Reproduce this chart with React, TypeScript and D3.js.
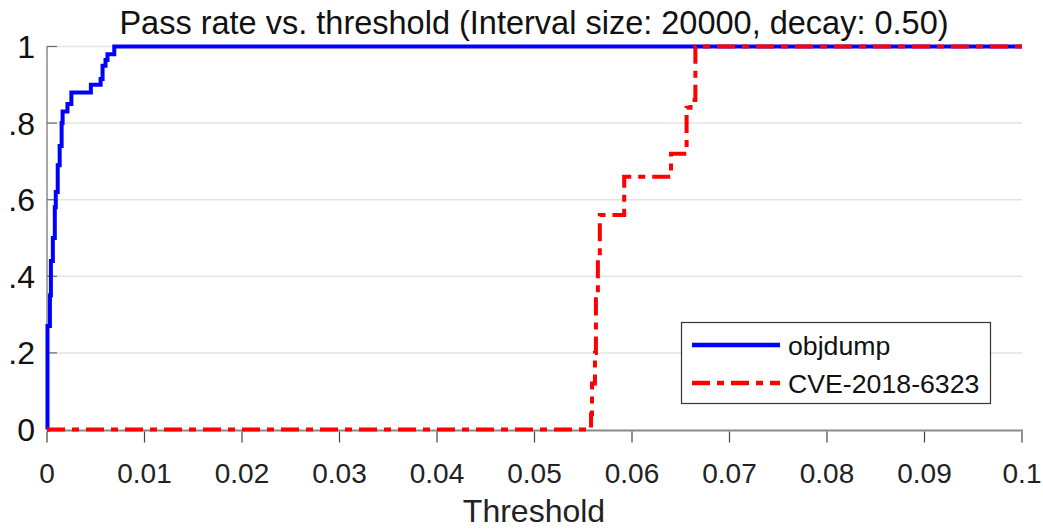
import React, { useEffect, useRef } from "react";
import * as d3 from "d3";

// Pass-rate curves (threshold, pass rate), drawn as step functions
const objdumpThreshold = [0, 0.00005, 0.0003, 0.0004, 0.0006, 0.0008, 0.0009, 0.0011, 0.0013, 0.0015, 0.0016, 0.0021, 0.0025, 0.0045, 0.0055, 0.0057, 0.006, 0.0062, 0.0069, 0.1];
const objdumpRate = [0, 0.27, 0.35, 0.44, 0.5, 0.58, 0.62, 0.69, 0.74, 0.8, 0.83, 0.85, 0.88, 0.9, 0.915, 0.95, 0.965, 0.98, 1.0, 1.0];

const cveThreshold = [0, 0.0558, 0.0559, 0.0562, 0.0563, 0.0565, 0.0567, 0.0592, 0.064, 0.0656, 0.066, 0.0665, 0.1];
const cveRate = [0, 0.04, 0.12, 0.2, 0.34, 0.45, 0.56, 0.66, 0.72, 0.84, 0.86, 1.0, 1.0];

const xTicks = [0, 0.01, 0.02, 0.03, 0.04, 0.05, 0.06, 0.07, 0.08, 0.09, 0.1];
const xTickLabels = ["0", "0.01", "0.02", "0.03", "0.04", "0.05", "0.06", "0.07", "0.08", "0.09", "0.1"];
const yTicks = [0, 0.2, 0.4, 0.6, 0.8, 1];
const yTickLabels = ["0", ".2", ".4", ".6", ".8", "1"];

const seriesNames = ["objdump", "CVE-2018-6323"];

const W = 1043;
const H = 529;
const FONT = "'Liberation Sans', Arial, Helvetica, sans-serif";
const DASH = "18,7,7,7";

export default function App() {
  const ref = useRef<SVGSVGElement>(null);

  useEffect(() => {
    const svg = d3.select(ref.current);
    svg.selectAll("*").remove();

    const left = 47, right = 1022, top = 46.5, bottom = 429.5;
    const x = d3.scaleLinear().domain([0, 0.1]).range([left, right]);
    const y = d3.scaleLinear().domain([0, 1]).range([bottom, top]);

    // horizontal grid
    svg.append("g")
      .selectAll("line")
      .data(yTicks.filter((v) => v > 0))
      .join("line")
      .attr("x1", left).attr("x2", right)
      .attr("y1", (d) => y(d)).attr("y2", (d) => y(d))
      .attr("stroke", "#e3e3e3").attr("stroke-width", 1.5);

    // left axis line and inward ticks
    svg.append("line")
      .attr("x1", left).attr("x2", left).attr("y1", top).attr("y2", bottom)
      .attr("stroke", "#8a8a8a").attr("stroke-width", 1.5);
    svg.append("g")
      .selectAll("line")
      .data(yTicks)
      .join("line")
      .attr("x1", left).attr("x2", left + 10)
      .attr("y1", (d) => y(d)).attr("y2", (d) => y(d))
      .attr("stroke", "#6a6a6a").attr("stroke-width", 1.2);

    // y tick labels
    svg.append("g")
      .selectAll("text")
      .data(yTicks)
      .join("text")
      .attr("x", 35)
      .attr("y", (d) => y(d) + 11.5)
      .attr("text-anchor", "end")
      .attr("font-family", FONT)
      .attr("font-size", 32)
      .attr("fill", "#111")
      .text((_, i) => yTickLabels[i]);

    // bottom axis and outward ticks
    svg.append("line")
      .attr("x1", left).attr("x2", right + 1).attr("y1", bottom + 1).attr("y2", bottom + 1)
      .attr("stroke", "#8a8a8a").attr("stroke-width", 2);
    svg.append("g")
      .selectAll("line")
      .data(xTicks)
      .join("line")
      .attr("x1", (d) => x(d)).attr("x2", (d) => x(d))
      .attr("y1", bottom + 2).attr("y2", bottom + 13)
      .attr("stroke", "#444").attr("stroke-width", 1.2);
    svg.append("g")
      .selectAll("text")
      .data(xTicks)
      .join("text")
      .attr("x", (d) => x(d))
      .attr("y", 483)
      .attr("text-anchor", "middle")
      .attr("font-family", FONT)
      .attr("font-size", 28)
      .attr("fill", "#222")
      .text((_, i) => xTickLabels[i]);

    // axis label and title
    svg.append("text")
      .attr("x", 534).attr("y", 522)
      .attr("text-anchor", "middle")
      .attr("font-family", FONT).attr("font-size", 32).attr("fill", "#222")
      .text("Threshold");
    svg.append("text")
      .attr("x", 534).attr("y", 34)
      .attr("text-anchor", "middle")
      .attr("font-family", FONT).attr("font-size", 32.5).attr("fill", "#111")
      .text("Pass rate vs. threshold (Interval size: 20000, decay: 0.50)");

    const objdump = objdumpThreshold.map((t, i) => [x(t), y(objdumpRate[i])] as [number, number]);
    const cve = cveThreshold.map((t, i) => [x(t), y(cveRate[i])] as [number, number]);
    const path = d3.line().curve(d3.curveStepAfter);

    svg.append("path")
      .attr("d", path(objdump))
      .attr("fill", "none").attr("stroke", "#0000ff").attr("stroke-width", 4);
    svg.append("path")
      .attr("d", path(cve))
      .attr("fill", "none").attr("stroke", "#ff0000").attr("stroke-width", 4)
      .attr("stroke-dasharray", DASH);

    // legend
    const lg = svg.append("g");
    lg.append("rect")
      .attr("x", 681.5).attr("y", 322.5).attr("width", 309).attr("height", 81)
      .attr("fill", "#fff").attr("stroke", "#333").attr("stroke-width", 1.2);
    const colors = ["#0000ff", "#ff0000"];
    const dashes = [null, DASH];
    const rows = [345, 383];
    seriesNames.forEach((name, i) => {
      const l = lg.append("line")
        .attr("x1", 692).attr("x2", 780).attr("y1", rows[i]).attr("y2", rows[i])
        .attr("stroke", colors[i]).attr("stroke-width", 4.5);
      if (dashes[i]) l.attr("stroke-dasharray", dashes[i] as string);
      lg.append("text")
        .attr("x", 788).attr("y", rows[i] + 9.5)
        .attr("font-family", FONT).attr("font-size", 26.7).attr("fill", "#111")
        .text(name);
    });
  }, []);

  return (
    <svg
      ref={ref}
      width={W}
      height={H}
      style={{ position: "absolute", left: 0, top: 0, background: "#fff" }}
    />
  );
}
